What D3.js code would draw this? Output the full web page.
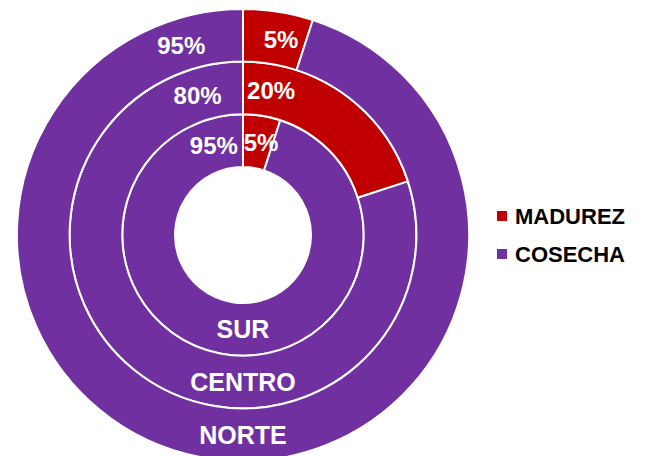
<!DOCTYPE html>
<html>
<head>
<meta charset="utf-8">
<script src="https://cdn.jsdelivr.net/npm/d3@7"></script>
<style>
  body { margin: 0; background: #fff; }
  text { font-family: 'Liberation Sans', Arial, sans-serif; font-weight: bold; }
</style>
</head>
<body>
<svg id="chart"></svg>
<script>
'use strict';

// data (inner ring first)
var regions = ['SUR', 'CENTRO', 'NORTE'];
var series  = ['MADUREZ', 'COSECHA'];
var madurez = [5, 20, 5];
var cosecha = [95, 80, 95];

var colors = ['#c00000', '#7030a0'];

var W = 648, H = 456;
var cx = 243, cy = 235;
var r0 = 68, ringW = 52.7;

var svg = d3.select('#chart').attr('width', W).attr('height', H);
var g = svg.append('g').attr('transform', 'translate(' + cx + ',' + cy + ')');

var color = d3.scaleOrdinal().domain(series).range(colors);
var pie = d3.pie().sort(null).value(function(d){ return d.value; });

// label angles near 12 o'clock (deg), per series
var labelAngle = { MADUREZ: 11, COSECHA: -18 };

regions.forEach(function(reg, i){
  var inner = r0 + i * ringW, outer = inner + ringW, mid = (inner + outer) / 2;
  var vals = [
    { key: 'MADUREZ', value: madurez[i] },
    { key: 'COSECHA', value: cosecha[i] }
  ];
  var arc = d3.arc().innerRadius(inner).outerRadius(outer);

  g.selectAll('.slice' + i).data(pie(vals)).enter().append('path')
    .attr('d', arc)
    .attr('fill', function(d){ return color(d.data.key); })
    .attr('stroke', '#fff').attr('stroke-width', 2);

  // percent labels
  g.selectAll('.lab' + i).data(vals).enter().append('text')
    .attr('x', function(d){ return mid * Math.sin(labelAngle[d.key] * Math.PI / 180); })
    .attr('y', function(d){ return -mid * Math.cos(labelAngle[d.key] * Math.PI / 180); })
    .attr('dy', '0.36em')
    .attr('text-anchor', 'middle')
    .attr('fill', '#fff').attr('font-size', 24)
    .text(function(d){ return d.value + '%'; });

  // region label at bottom of ring
  g.append('text')
    .attr('x', 0).attr('y', mid)
    .attr('dy', '0.36em')
    .attr('text-anchor', 'middle')
    .attr('fill', '#fff').attr('font-size', 25)
    .text(reg);
});

// legend
var legend = svg.append('g').attr('transform', 'translate(497,216)');
var item = legend.selectAll('g').data(series).enter().append('g')
  .attr('transform', function(d, i){ return 'translate(0,' + (i * 38) + ')'; });
item.append('rect')
  .attr('x', 0).attr('y', -5).attr('width', 10).attr('height', 10)
  .attr('fill', function(d){ return color(d); });
item.append('text')
  .attr('x', 18).attr('y', 0).attr('dy', '0.36em')
  .attr('font-size', 22).attr('fill', '#000')
  .text(function(d){ return d; });
</script>
</body>
</html>
